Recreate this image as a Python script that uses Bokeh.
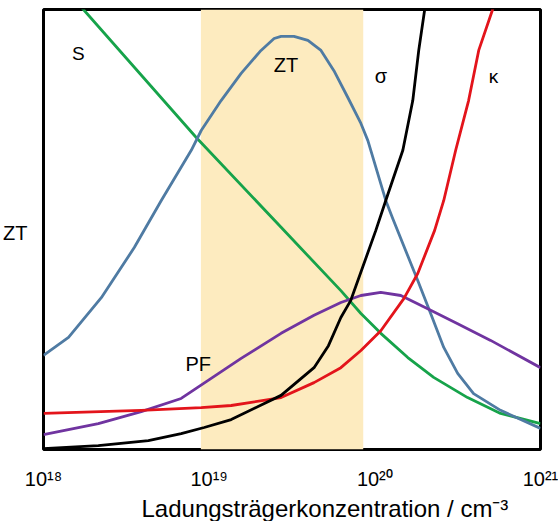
from bokeh.plotting import figure
from bokeh.models import Range1d, FixedTicker, BoxAnnotation, Title
from bokeh.core.properties import value
from bokeh.embed import file_html
from bokeh.resources import INLINE

# x values are log10 of carrier concentration (cm^-3); y values are relative
x_ticks = [18, 19, 20, 21]
x_tick_labels = ["10¹⁸", "10¹⁹", "10²⁰", "10²¹"]
x_title = "Ladungsträgerkonzentration / cm⁻³"
y_title = "ZT"

shade_from = 18.95
shade_to = 19.93

s_x = [18.0, 18.241, 18.922, 19.434, 19.795, 19.916, 20.036, 20.199, 20.355, 20.560, 20.759, 21.0]
s_y = [1.098, 1.000, 0.709, 0.505, 0.361, 0.309, 0.264, 0.209, 0.164, 0.118, 0.082, 0.059]

zt_x = [18.0, 18.151, 18.349, 18.548, 18.711, 18.892, 18.952, 19.072, 19.193, 19.313, 19.392, 19.434,
        19.512, 19.596, 19.675, 19.753, 19.837, 19.916, 19.958, 20.066, 20.108, 20.259, 20.337, 20.416,
        20.500, 20.596, 20.759, 21.0]
zt_y = [0.214, 0.255, 0.345, 0.459, 0.566, 0.680, 0.725, 0.793, 0.855, 0.907, 0.934, 0.939,
        0.939, 0.930, 0.907, 0.861, 0.800, 0.741, 0.702, 0.566, 0.525, 0.384, 0.309, 0.232,
        0.173, 0.127, 0.089, 0.048]

sigma_x = [18.0, 18.331, 18.633, 18.831, 18.970, 19.133, 19.434, 19.633, 19.72, 19.795, 19.855, 20.006,
           20.066, 20.169, 20.229, 20.265, 20.301, 20.31]
sigma_y = [0.002, 0.009, 0.020, 0.036, 0.050, 0.068, 0.123, 0.186, 0.236, 0.300, 0.339, 0.498,
           0.566, 0.680, 0.793, 0.907, 1.000, 1.02]

kappa_x = [18.0, 18.590, 18.952, 19.133, 19.434, 19.633, 19.795, 19.916, 20.036, 20.175, 20.259,
           20.361, 20.416, 20.488, 20.566, 20.627, 20.711, 20.73]
kappa_y = [0.082, 0.089, 0.095, 0.100, 0.118, 0.152, 0.186, 0.225, 0.270, 0.343, 0.400,
           0.498, 0.566, 0.680, 0.793, 0.907, 1.000, 1.03]

pf_x = [18.0, 18.331, 18.590, 18.831, 18.994, 19.193, 19.434, 19.633, 19.795, 19.916, 20.036,
        20.157, 20.319, 20.500, 20.699, 21.0]
pf_y = [0.034, 0.059, 0.086, 0.116, 0.157, 0.207, 0.264, 0.305, 0.334, 0.350, 0.357,
        0.350, 0.320, 0.286, 0.248, 0.186]

font = "Liberation Sans"

p = figure(width=558, height=521, output_backend="svg", toolbar_location=None,
           x_range=Range1d(18, 21), y_range=Range1d(0, 1),
           min_border_left=43, min_border_right=18, min_border_top=9, min_border_bottom=72)
p.grid.visible = False
p.background_fill_color = "white"
p.border_fill_color = "white"
p.outline_line_color = "black"
p.outline_line_width = 3

p.xaxis.ticker = FixedTicker(ticks=x_ticks)
p.xaxis.major_label_overrides = {t: l for t, l in zip(x_ticks, x_tick_labels)}
p.yaxis.ticker = FixedTicker(ticks=[0.493])
p.yaxis.major_label_overrides = {0.493: y_title}
for ax in (p.xaxis, p.yaxis):
    ax.axis_line_color = None
    ax.major_tick_line_color = None
    ax.minor_tick_line_color = None
    ax.major_label_text_font = font
    ax.major_label_text_font_size = "20px"
    ax.major_label_text_color = "black"
p.xaxis.major_label_standoff = 12
p.yaxis.major_label_standoff = 10
p.yaxis.major_label_orientation = "horizontal"

p.add_layout(BoxAnnotation(left=shade_from, right=shade_to, fill_color="#fdebbf",
                           fill_alpha=1.0, line_color=None, level="underlay"))

lw = 2.8
p.line(s_x, s_y, line_color="#16a34a", line_width=lw, line_join="round")
p.line(zt_x, zt_y, line_color="#4f7ba3", line_width=lw, line_join="round")
p.line(pf_x, pf_y, line_color="#7034a0", line_width=lw, line_join="round")
p.line(kappa_x, kappa_y, line_color="#e3141b", line_width=lw, line_join="round")
p.line(sigma_x, sigma_y, line_color="black", line_width=lw, line_join="round")

p.text(x=[18.211], y=[0.9], text=["S"], text_font=value(font), text_font_size="19px",
       text_align="center", text_baseline="middle", text_color="black")
p.text(x=[19.464], y=[0.873], text=["ZT"], text_font=value(font), text_font_size="20px",
       text_align="center", text_baseline="middle", text_color="black")
p.text(x=[20.036], y=[0.85], text=["σ"], text_font=value(font), text_font_size="20px",
       text_align="center", text_baseline="middle", text_color="black")
p.text(x=[20.717], y=[0.848], text=["κ"], text_font=value(font), text_font_size="19px",
       text_align="center", text_baseline="middle", text_color="black")
p.text(x=[18.934], y=[0.195], text=["PF"], text_font=value(font), text_font_size="20px",
       text_align="center", text_baseline="middle", text_color="black")

p.add_layout(Title(text=x_title, align="left", offset=98, standoff=0,
                   text_font=font, text_font_size="24px", text_font_style="normal",
                   text_color="black"), "below")

open("out.html", "w").write(file_html(p, INLINE))
